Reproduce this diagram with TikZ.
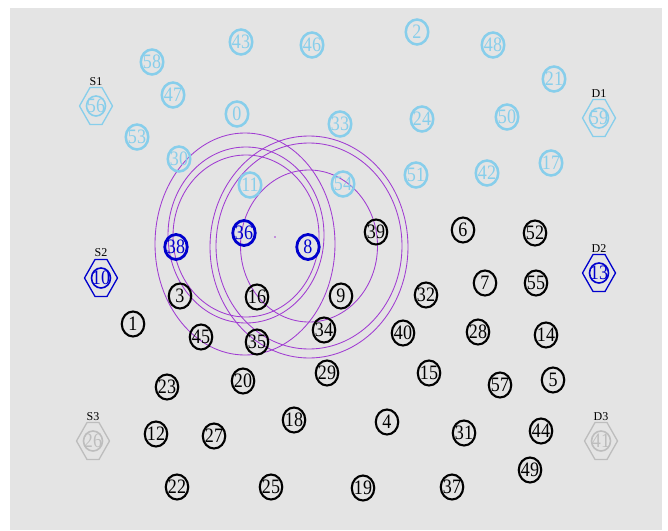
\documentclass[tikz,border=0pt]{standalone}
\usepackage{fontspec}
\setmainfont{Liberation Serif}
\usepackage{graphicx}
\usepackage{xcolor}
\definecolor{clSky}{HTML}{87CEEB}
\definecolor{clBlue}{HTML}{0000CD}
\definecolor{clGrey}{HTML}{BDBDBD}
\definecolor{clRing}{HTML}{A03CD2}
\definecolor{clPanel}{HTML}{E4E4E4}
\usepackage{tikz}
\usetikzlibrary{positioning,shapes.geometric}
\newcommand{\spotnum}[1]{\makebox[0pt]{\scalebox{0.88}[1]{#1}}}
\tikzset{
  spot/.style={ellipse, draw, inner sep=0pt, minimum width=22.5pt, minimum height=25pt,
               font=\fontsize{20.5}{20.5}\selectfont},
  sky/.style={spot, draw=clSky, text=clSky, line width=2.5pt},
  live/.style={spot, draw=clBlue, text=clBlue, line width=2.8pt},
  idle/.style={spot, draw=black, text=black, line width=2.1pt},
  port/.style={spot, minimum width=19pt, minimum height=20pt, line width=1.6pt},
  hexline/.style={line width=1.3pt},
  portlabel/.style={font=\fontsize{12}{12}\selectfont, inner sep=0pt, text=black},
  ring/.style={draw=clRing, line width=0.85pt},
}
\newcommand{\hexport}[2]{%
  \draw[hexline, draw=#2, shift={(#1.center)}]
    (-16.5,0) -- (-6,-18.5) -- (6,-18.5) -- (16.5,0) -- (6,18.5) -- (-6,18.5) -- cycle;}

\begin{document}
\begin{tikzpicture}[x=1pt, y=-1pt]
  \useasboundingbox (0,0) rectangle (668,530);
  \fill[clPanel] (10,8) rectangle (662,530);

  % rings
  \draw[ring] (245,244) ellipse [x radius=90, y radius=111];
  \draw[ring] (246,235) ellipse [x radius=78, y radius=88];
  \draw[ring] (246,236) ellipse [x radius=73, y radius=81];
  \draw[ring] (309,247) ellipse [x radius=99, y radius=111];
  \draw[ring] (309,246) ellipse [x radius=93, y radius=103];
  \draw[ring] (309,246) ellipse [x radius=68.5, y radius=76];
  \coordinate (mark) at (275,237);
  \fill[clRing] (mark) circle [radius=0.9];

  % idle spots
  \foreach \n/\x/\y in {39/376/232, 6/463/230, 52/535/233, 3/180/296, 16/257/297,
      9/341/296, 32/426/295, 7/485/283, 55/536/283, 1/133/324, 45/201/337,
      35/257/342, 34/324/330, 40/403/333, 28/478/332, 14/546/335, 23/167/387,
      20/243/381, 29/327/373, 15/429/373, 57/500/385, 5/553/380, 18/294/420,
      4/387/422, 31/464/433, 44/541/431, 12/156/434, 27/214/436, 22/177/487,
      25/271/487, 19/363/488, 37/452/487, 49/530/470}
    \node[idle] (n\n) at (\x,\y) {\spotnum{\n}};

  % sky spots
  \foreach \n/\x/\y in {43/241/42, 46/312/45, 2/417/32, 48/493/45, 58/152/62,
      47/173/95, 0/237/114, 33/340/124, 24/422/119, 50/507/117, 21/554/79,
      53/137/137, 30/179/159, 11/250/185, 54/343/184, 51/416/175, 42/487/173,
      17/551/163}
    \node[sky] (n\n) at (\x,\y) {\spotnum{\n}};

  % live spots
  \foreach \n/\x/\y in {38/176/247, 36/244/233, 8/308/247}
    \node[live] (n\n) at (\x,\y) {\spotnum{\n}};

  % ports
  \node[port, draw=clSky, text=clSky] (n56) at (96,106) {\spotnum{56}};
  \node[port, draw=clSky, text=clSky] (n59) at (599,118) {\spotnum{59}};
  \node[port, draw=clBlue, text=clBlue] (n10) at (101,278) {\spotnum{10}};
  \node[port, draw=clBlue, text=clBlue] (n13) at (599,273) {\spotnum{13}};
  \node[port, draw=clGrey, text=clGrey] (n26) at (93,441) {\spotnum{26}};
  \node[port, draw=clGrey, text=clGrey] (n41) at (601,441) {\spotnum{41}};
  \hexport{n56}{clSky}
  \hexport{n59}{clSky}
  \hexport{n10}{clBlue}
  \hexport{n13}{clBlue}
  \hexport{n26}{clGrey}
  \hexport{n41}{clGrey}
  \node[portlabel, above=20pt of n56.center] (s1) {S1};
  \node[portlabel, above=20pt of n59.center] (d1) {D1};
  \node[portlabel, above=21pt of n10.center] (s2) {S2};
  \node[portlabel, above=20pt of n13.center] (d2) {D2};
  \node[portlabel, above=20pt of n26.center] (s3) {S3};
  \node[portlabel, above=20pt of n41.center] (d3) {D3};
\end{tikzpicture}
\end{document}
